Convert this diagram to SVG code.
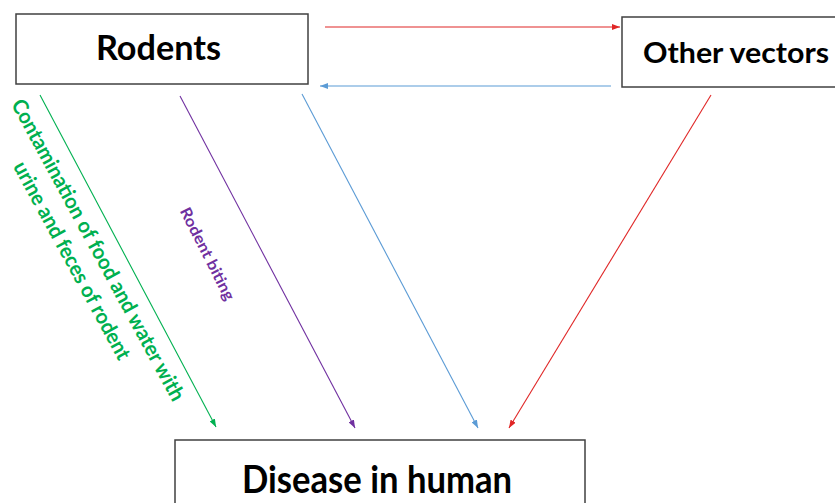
<svg xmlns="http://www.w3.org/2000/svg" width="835" height="503" viewBox="0 0 835 503">
  <defs>
    <style>
      .box { fill: #ffffff; stroke: #404040; stroke-width: 1.5; }
      .title { font-family: Lato, "Open Sans", "Liberation Sans", sans-serif; font-weight: bold; fill: #000000; }
      .lbl { font-family: Lato, "Open Sans", "Liberation Sans", sans-serif; font-weight: bold; }
      .c { fill: none; stroke-width: 1.1; }
    </style>
    <marker id="ah-red" viewBox="0 0 8 6" refX="8" refY="3" markerWidth="8" markerHeight="6" markerUnits="userSpaceOnUse" orient="auto"><path d="M0,0 L8,3 L0,6 z" fill="#E02626"/></marker>
    <marker id="ah-blue" viewBox="0 0 8 6" refX="8" refY="3" markerWidth="8" markerHeight="6" markerUnits="userSpaceOnUse" orient="auto"><path d="M0,0 L8,3 L0,6 z" fill="#5B9BD5"/></marker>
    <marker id="ah-green" viewBox="0 0 8 6" refX="8" refY="3" markerWidth="8" markerHeight="6" markerUnits="userSpaceOnUse" orient="auto"><path d="M0,0 L8,3 L0,6 z" fill="#00B050"/></marker>
    <marker id="ah-purple" viewBox="0 0 8 6" refX="8" refY="3" markerWidth="8" markerHeight="6" markerUnits="userSpaceOnUse" orient="auto"><path d="M0,0 L8,3 L0,6 z" fill="#7030A0"/></marker>
  </defs>
  <rect width="835" height="503" fill="#ffffff"/>

  <g id="connectors">
    <line class="c" x1="325" y1="27" x2="620" y2="27" stroke="#E02626" marker-end="url(#ah-red)"/>
    <line class="c" x1="611" y1="86" x2="320" y2="86" stroke="#5B9BD5" marker-end="url(#ah-blue)"/>
    <line class="c" x1="40" y1="95" x2="216" y2="427" stroke="#00B050" marker-end="url(#ah-green)"/>
    <line class="c" x1="180" y1="96" x2="355" y2="428" stroke="#7030A0" marker-end="url(#ah-purple)"/>
    <line class="c" x1="302" y1="94" x2="478" y2="428" stroke="#5B9BD5" marker-end="url(#ah-blue)"/>
    <line class="c" x1="711" y1="95" x2="509" y2="428" stroke="#E02626" marker-end="url(#ah-red)"/>
  </g>

  <g id="label-contamination" transform="translate(98,250) rotate(61.5)">
    <text class="lbl" x="0" y="7" font-size="21" fill="#00B050" text-anchor="middle" textLength="340" lengthAdjust="spacingAndGlyphs">Contamination of food and water with</text>
    <text class="lbl" x="-3" y="35" font-size="21" fill="#00B050" text-anchor="middle" textLength="222" lengthAdjust="spacingAndGlyphs">urine and feces of rodent</text>
  </g>

  <g id="label-biting" transform="translate(207,254) rotate(63)">
    <text class="lbl" x="0" y="5" font-size="15.5" fill="#7030A0" text-anchor="middle" textLength="102" lengthAdjust="spacingAndGlyphs">Rodent biting</text>
  </g>

  <g id="node-rodents">
    <rect class="box" x="16" y="14" width="292" height="70"/>
    <text class="title" x="158.5" y="60" font-size="34" text-anchor="middle" textLength="125" lengthAdjust="spacingAndGlyphs">Rodents</text>
  </g>

  <g id="node-other-vectors">
    <rect class="box" x="622" y="17" width="220" height="70"/>
    <text class="title" x="736" y="63" font-size="28" text-anchor="middle" textLength="186" lengthAdjust="spacingAndGlyphs">Other vectors</text>
  </g>

  <g id="node-disease">
    <rect class="box" x="175" y="440" width="410" height="80"/>
    <text class="title" x="377" y="493" font-size="38" text-anchor="middle" textLength="270" lengthAdjust="spacingAndGlyphs">Disease in human</text>
  </g>
</svg>
